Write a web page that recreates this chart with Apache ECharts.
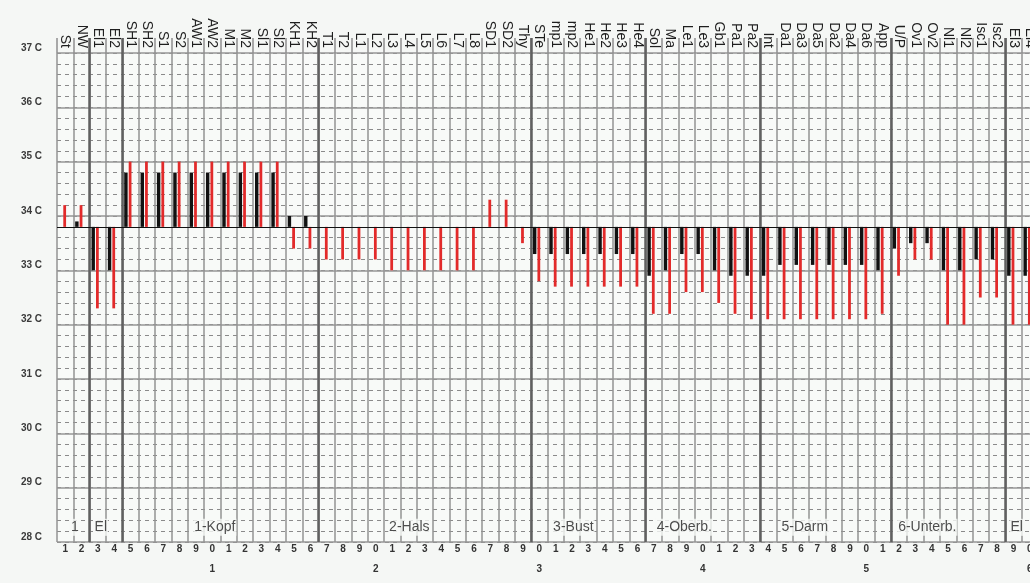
<!DOCTYPE html>
<html>
<head>
<meta charset="utf-8">
<script src="https://cdn.jsdelivr.net/npm/echarts@6/dist/echarts.min.js"></script>
<style>
html,body{margin:0;padding:0;background:#f5f7f5;}
#c{width:1030px;height:583px;}
</style>
</head>
<body>
<div id="c"></div>
<script>
// ---- data ----
const zones = ['St','NW','El1','El2','SH1','SH2','S1','S2','AW1','AW2','M1','M2','Sl1','Sl2','KH1','KH2',
  'T1','T2','L1','L2','L3','L4','L5','L6','L7','L8','SD1','SD2','Thy',
  'STe','mp1','mp2','He1','He2','He3','He4',
  'Sol','Ma','Le1','Le3','Gb1','Pa1','Pa2',
  'Int','Da1','Da3','Da5','Da2','Da4','Da6','App',
  'U/P','Ov1','Ov2','Nl1','Nl2','Isc1','Isc2',
  'El3','El4'];
// first reading (black), degrees C; null = no deviation from the reference line
const blackTemp = [null,33.9,33.0,33.0,34.8,34.8,34.8,34.8,34.8,34.8,34.8,34.8,34.8,34.8,34.0,34.0,
  null,null,null,null,null,null,null,null,null,null,null,null,null,
  33.3,33.3,33.3,33.3,33.3,33.3,33.3,
  32.9,33.0,33.3,33.3,33.0,32.9,32.9,
  32.9,33.1,33.1,33.1,33.1,33.1,33.1,33.0,
  33.4,33.5,33.5,33.0,33.0,33.2,33.2,
  32.9,32.9];
// second reading (red), degrees C
const redTemp = [34.2,34.2,32.3,32.3,35.0,35.0,35.0,35.0,35.0,35.0,35.0,35.0,35.0,35.0,33.4,33.4,
  33.2,33.2,33.2,33.2,33.0,33.0,33.0,33.0,33.0,33.0,34.3,34.3,33.5,
  32.8,32.7,32.7,32.7,32.7,32.7,32.7,
  32.2,32.2,32.6,32.6,32.4,32.2,32.1,
  32.1,32.1,32.1,32.1,32.1,32.1,32.1,32.2,
  32.9,33.2,33.2,32.0,32.0,32.5,32.5,
  32.0,32.0];
const baseline = 33.8;
const yTicks = [28,29,30,31,32,33,34,35,36,37];
const sectionStarts = [2,4,16,29,36,43,51,58];
const sectionNames = ['1','El','1-Kopf','2-Hals','3-Bust','4-Oberb.','5-Darm','6-Unterb.','El'];
const sectionLabelAt = [1.09,2.68,9.65,21.55,31.58,38.37,45.74,53.23,58.7];
const sectionLabelTemp = 28.27;
const columnNumbers = zones.map((z, i) => String(i + 1));

// ---- chart ----
const chart = echarts.init(document.getElementById('c'), null, {renderer: 'canvas'});
const FONT = '"Liberation Sans", Arial, sans-serif';

function barRenderer(offsetFrac, widthFrac, color) {
  return function (params, api) {
    const idx = api.value(0);
    const v = api.value(1);
    const p0 = api.coord([idx, baseline]);
    const p1 = api.coord([idx, v]);
    const bw = api.size([1, 0])[0];
    const left = p0[0] - bw / 2;
    return {
      type: 'rect',
      shape: {x: left + bw * offsetFrac, y: Math.min(p0[1], p1[1]), width: bw * widthFrac, height: Math.abs(p1[1] - p0[1])},
      style: {fill: color}
    };
  };
}
const toData = arr => arr.map((v, i) => v == null ? null : [i, v]).filter(d => d);

const option = {
  backgroundColor: '#f5f7f5',
  animation: false,
  grid: {left: 57, right: -8, top: 53, bottom: 41, outerBoundsMode: 'none', show: true, backgroundColor: '#f8faf8', borderWidth: 0},
  xAxis: [
    { // top labels + thin column lines
      type: 'category', position: 'top', data: zones, boundaryGap: true,
      axisLine: {show: false},
      axisTick: {show: true, inside: false, length: 15, interval: 0, lineStyle: {color: '#8e8e8e', width: 1.5}},
      axisLabel: {show: true, interval: 0, rotate: 90, margin: 5, fontFamily: FONT, fontSize: 14, color: '#1e1e1e'},
      splitLine: {show: true, interval: 0, lineStyle: {color: '#939393', width: 1.5}},
      z: 1
    },
    { // thick section lines
      type: 'category', position: 'top', data: zones, boundaryGap: true,
      axisLine: {show: false},
      axisTick: {show: true, inside: false, length: 15, interval: (i) => sectionStarts.includes(i), lineStyle: {color: '#606060', width: 2.5}},
      axisLabel: {show: false},
      splitLine: {show: true, interval: (i) => sectionStarts.includes(i), lineStyle: {color: '#606060', width: 2.5}},
      z: 2
    },
    { // bottom column numbers
      type: 'category', position: 'bottom', data: columnNumbers, boundaryGap: true,
      axisLine: {show: false}, axisTick: {show: false}, splitLine: {show: false},
      axisLabel: {
        show: true, interval: 0, margin: 1,
        formatter: (val) => {
          const n = +val; const d = n % 10;
          return d === 0 ? '{a|' + d + '}\n{b|' + (n / 10) + '}' : '{a|' + d + '}';
        },
        rich: {
          a: {fontFamily: FONT, fontSize: 10, fontWeight: 'bold', color: '#333', lineHeight: 12},
          b: {fontFamily: FONT, fontSize: 10, fontWeight: 'bold', color: '#333', lineHeight: 28}
        }
      }
    },
    { // hidden value axis for section captions
      type: 'value', min: 0, max: 60, show: false
    }
  ],
  yAxis: [
    {
      type: 'value', min: 28, max: 37, interval: 1, position: 'left',
      axisLine: {show: false}, axisTick: {show: false},
      axisLabel: {show: true, margin: 15, verticalAlign: 'bottom', fontFamily: FONT, fontSize: 10, fontWeight: 'bold', color: '#3a3a3a',
        formatter: v => yTicks.includes(v) ? v + ' C' : ''},
      splitLine: {show: true, lineStyle: {color: '#969696', width: 1.5, type: 'solid'}},
      z: 1
    },
    {
      type: 'value', min: 28, max: 37, interval: 0.2, position: 'left',
      axisLine: {show: false}, axisTick: {show: false}, axisLabel: {show: false},
      splitLine: {show: true, lineStyle: {color: '#8a8a8a', width: 1, type: [4, 4]}},
      z: 0
    }
  ],
  series: [
    {
      type: 'custom', name: 'black', xAxisIndex: 0, yAxisIndex: 0, z: 3,
      renderItem: barRenderer(0.11, 0.21, '#111111'),
      data: toData(blackTemp),
      markLine: {silent: true, symbol: 'none', label: {show: false},
        lineStyle: {color: '#111', width: 1, type: 'solid'},
        data: [{yAxis: baseline}]}
    },
    {
      type: 'custom', name: 'red', xAxisIndex: 0, yAxisIndex: 0, z: 3,
      renderItem: barRenderer(0.385, 0.17, '#e22a2a'),
      data: toData(redTemp)
    },
    {
      type: 'scatter', xAxisIndex: 3, yAxisIndex: 0, z: 5, silent: true,
      symbol: 'rect', symbolSize: 1, itemStyle: {color: 'transparent'},
      label: {show: true, position: 'inside', formatter: p => p.name,
        fontFamily: FONT, fontSize: 14, color: '#222', backgroundColor: '#f8faf8', padding: [2, 1, 1, 1]},
      data: sectionNames.map((n, i) => ({name: n, value: [sectionLabelAt[i], sectionLabelTemp]}))
    }
  ]
};
chart.setOption(option);
</script>
</body>
</html>
